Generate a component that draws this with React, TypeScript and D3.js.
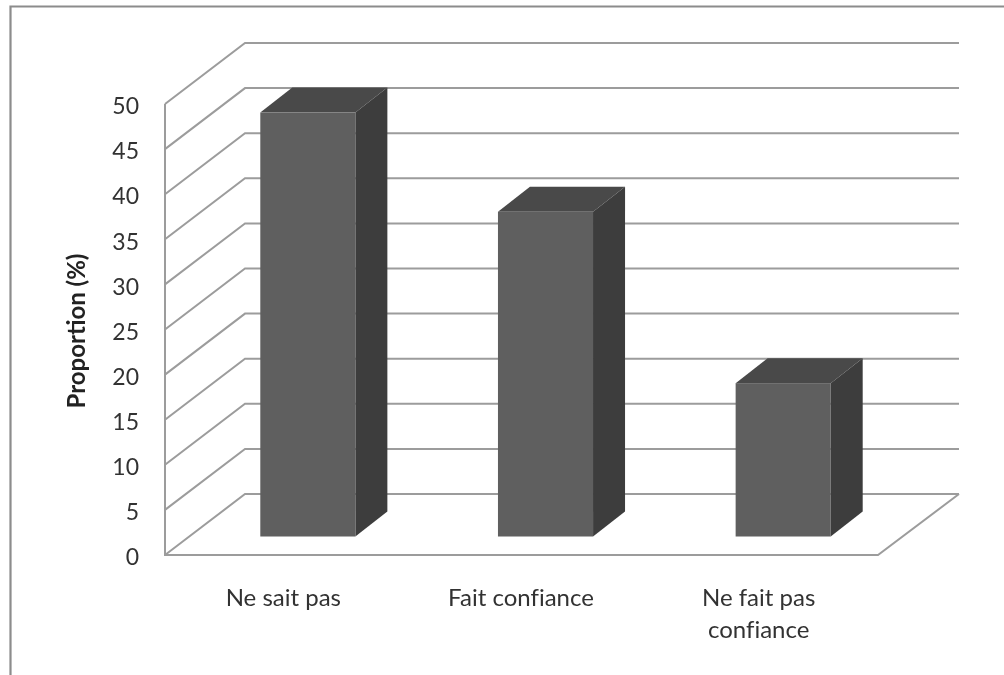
import React from "react";
import * as d3 from "d3";

const categories = ["Ne sait pas", "Fait confiance", "Ne fait pas confiance"];
const categoryLines = [["Ne sait pas"], ["Fait confiance"], ["Ne fait pas", "confiance"]];
const values = [47, 36, 17];
const yTicks = [0, 5, 10, 15, 20, 25, 30, 35, 40, 45, 50];

const width = 1004;
const height = 675;
const font = "Lato, 'Open Sans', sans-serif";
const gridColor = "#9c9c9c";

// chart box: front plane and how far back the wall sits
const wallDx = 80;
const wallDy = -61;
const barShiftDx = 24;
const barShiftDy = -18.5;
const barDepthDx = 32;
const barDepthDy = -25;

export default function App() {
  const x = d3
    .scaleBand<string>()
    .domain(categories)
    .range([165, 878])
    .paddingInner(0.6)
    .paddingOuter(0.3);
  const y = d3.scaleLinear().domain([0, 50]).range([555, 104]);

  return (
    <svg
      width={width}
      height={height}
      style={{ position: "absolute", left: 0, top: 0, background: "#fff" }}
    >
      <defs>
        <filter id="soft" filterUnits="userSpaceOnUse" x="0" y="0" width={width} height={height}>
          <feGaussianBlur stdDeviation="0.7" />
        </filter>
      </defs>
      <g filter="url(#soft)">
        {/* outer frame, open on the right */}
        <path d="M10.5,680V6.5H1010" fill="none" stroke="#8c8c8c" strokeWidth={2.2} />

        {/* walls */}
        {yTicks.map((t) => (
          <path
            key={t}
            d={`M${x.range()[0]},${y(t)}L${x.range()[0] + wallDx},${y(t) + wallDy}H959`}
            fill="none"
            stroke={gridColor}
            strokeWidth={2}
          />
        ))}
        <path
          d={`M165,${y(50)}V${y(0)}H878L959,${y(0) + wallDy}`}
          fill="none"
          stroke={gridColor}
          strokeWidth={2}
        />

        {/* bars */}
        {categories.map((c, i) => {
          const x0 = (x(c) as number) + barShiftDx;
          const x1 = x0 + x.bandwidth();
          const yb = y(0) + barShiftDy;
          const yt = y(values[i]) + barShiftDy;
          return (
            <g key={c}>
              <path
                d={`M${x0},${yt}L${x0 + barDepthDx},${yt + barDepthDy}H${x1 + barDepthDx}L${x1},${yt}Z`}
                fill="#484848"
              />
              <path
                d={`M${x1},${yt}L${x1 + barDepthDx},${yt + barDepthDy}V${yb + barDepthDy}L${x1},${yb}Z`}
                fill="#3d3d3d"
              />
              <rect x={x0} y={yt} width={x.bandwidth()} height={yb - yt} fill="#5f5f5f" />
            </g>
          );
        })}

        {/* y tick labels */}
        {yTicks.map((t) => (
          <text
            key={t}
            x={139}
            y={y(t) + 2}
            dy="0.36em"
            textAnchor="end"
            fontFamily={font}
            fontSize={23}
            fill="#333"
          >
            {t}
          </text>
        ))}

        {/* category labels */}
        {categories.map((c, i) => (
          <text
            key={c}
            x={(x(c) as number) + x.bandwidth() / 2 - 0.5}
            y={606}
            textAnchor="middle"
            fontFamily={font}
            fontSize={24}
            fill="#333"
            style={{ fontVariantLigatures: "none" }}
          >
            {categoryLines[i].map((line, j) => (
              <tspan key={line} x={(x(c) as number) + x.bandwidth() / 2 - 0.5} y={606 + j * 32}>
                {line}
              </tspan>
            ))}
          </text>
        ))}

        {/* axis title */}
        <text
          transform="translate(85,331) rotate(-90)"
          textAnchor="middle"
          fontFamily={font}
          fontSize={24}
          fontWeight={700}
          fill="#222"
        >
          Proportion (%)
        </text>
      </g>
    </svg>
  );
}
